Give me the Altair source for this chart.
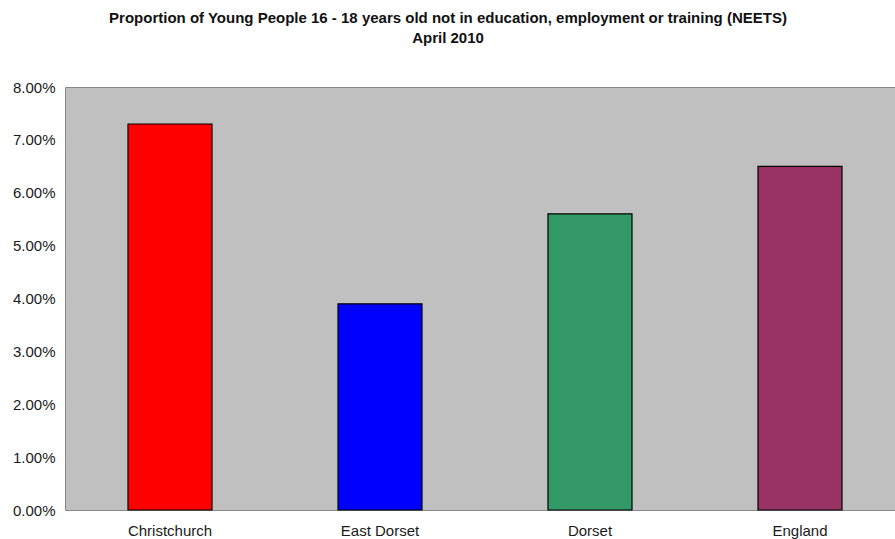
import altair as alt
import pandas as pd

areas = ["Christchurch", "East Dorset", "Dorset", "England"]
values = [0.073, 0.039, 0.056, 0.065]
colors = ["#ff0000", "#0000ff", "#339966", "#993366"]

df = pd.DataFrame({"area": areas, "value": values})

chart = alt.Chart(df).mark_bar(size=84, stroke="#000000", strokeWidth=1.2).encode(
    x=alt.X("area:N", sort=areas, title=None,
            scale=alt.Scale(range=[0, 840], paddingInner=0, paddingOuter=0),
            axis=alt.Axis(labelAngle=0, ticks=False, domain=False, labelPadding=13,
                          labelFontSize=15, labelFont="Liberation Sans", labelColor="#1a1a1a")),
    y=alt.Y("value:Q", title=None,
            scale=alt.Scale(domain=[0, 0.08], nice=False),
            axis=alt.Axis(format=".2%", values=[0, 0.01, 0.02, 0.03, 0.04, 0.05, 0.06, 0.07, 0.08],
                          ticks=False, domain=False, grid=False, labelPadding=10,
                          labelFontSize=15, labelFont="Liberation Sans", labelColor="#1a1a1a")),
    color=alt.Color("area:N", scale=alt.Scale(domain=areas, range=colors), legend=None),
).properties(
    width=830,
    height=423,
    background="white",
    autosize=alt.AutoSizeParams(type="none"),
    padding={"left": 65, "top": 87, "right": 0, "bottom": 29},
    title=alt.TitleParams(
        text=["Proportion of Young People 16 - 18 years old not in education, employment or training (NEETS)",
              "April 2010"],
        font="Liberation Sans", fontSize=15, fontWeight="bold", color="#111111",
        anchor="middle", offset=34, lineHeight=20, dx=-32,
    ),
).configure_view(
    fill="#c0c0c0", stroke="#8a8a8a", strokeWidth=1
)

chart.save("out.html", embed_options={"renderer": "svg", "actions": False})
